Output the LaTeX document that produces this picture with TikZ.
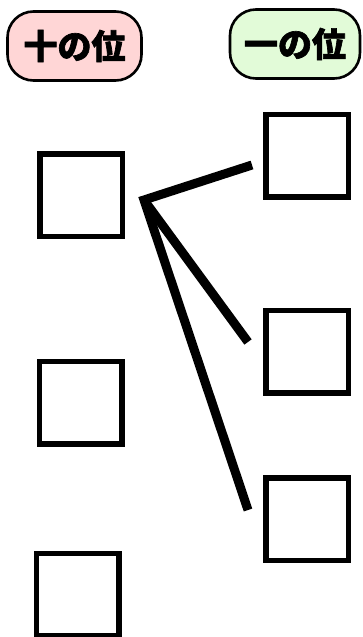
\documentclass[tikz,border=0pt]{standalone}
\usepackage{fontspec}
\usepackage{xcolor}
\usepackage{tikz}
\usetikzlibrary{calc,positioning}
\newfontfamily\jpfont{Noto Sans CJK JP}[BoldFeatures={FakeBold=2}]
\definecolor{tenpink}{HTML}{FFD6D6}
\definecolor{onegreen}{HTML}{E2FBD8}

\begin{document}
\begin{tikzpicture}[x=1pt,y=-1pt,
    placebox/.style={draw=black, line width=2.6pt, rounded corners=26pt,
        minimum width=134pt, minimum height=69pt, inner sep=0pt,
        font=\jpfont\bfseries\fontsize{34}{34}\selectfont},
    digitbox/.style={draw=black, line width=5.5pt, minimum size=82.5pt, inner sep=0pt},
    tie/.style={black, line width=9pt, line join=miter}]
    \useasboundingbox (0,0) rectangle (362,637);

    \node[placebox, fill=tenpink] (tens) at (74.5,46) {十の位};
    \node[placebox, fill=onegreen, minimum width=130pt] (ones) at (295,44) {一の位};

    \node[digitbox] (t1) at (81,195) {};
    \node[digitbox] (t2) at (80.5,402.5) {};
    \node[digitbox] (t3) at (77.5,594.5) {};

    \node[digitbox] (o1) at (307,155.5) {};
    \node[digitbox] (o2) at (307,351.5) {};
    \node[digitbox] (o3) at (307,519) {};

    \coordinate (j) at (144,200);
    \coordinate (e1) at (252,165);
    \coordinate (e2) at (248,342);
    \coordinate (e3) at (248,510);

    \draw[tie] (e1) -- (j) -- (e3);
    \draw[tie] (j) -- (e2);
\end{tikzpicture}
\end{document}
